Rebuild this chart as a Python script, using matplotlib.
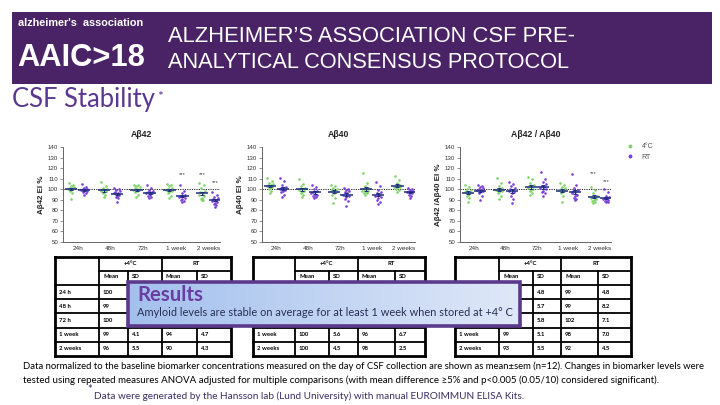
import matplotlib
matplotlib.use('Agg')
import matplotlib.pyplot as plt
import matplotlib.font_manager as fm
from matplotlib.colors import LinearSegmentedColormap
from matplotlib.lines import Line2D
from matplotlib.patches import Rectangle
import numpy as np

W, H = 720, 405

GROUPS = ['24h', '48h', '72h', '1 week', '2 weeks']
TABLE_ROWS = ['24 h', '48 h', '72 h', '1 week', '2 weeks']

# individual samples (% of baseline), 12 per group
AB42_4C = [[106, 104, 103, 102, 101, 101, 100, 100, 99, 98, 96, 91],
           [107, 103, 101, 100, 99, 99, 98, 98, 97, 96, 95, 93],
           [104, 104, 103, 102, 101, 100, 99, 99, 98, 97, 95, 93],
           [105, 104, 103, 101, 100, 99, 99, 98, 97, 96, 94, 92],
           [106, 104, 101, 98, 97, 96, 95, 94, 92, 91, 90, 90]]
AB42_RT = [[105, 102, 101, 100, 100, 99, 99, 98, 98, 97, 96, 95],
           [101, 100, 99, 98, 97, 96, 96, 95, 94, 93, 92, 88],
           [104, 101, 99, 98, 97, 97, 96, 96, 95, 94, 93, 92],
           [104, 98, 96, 95, 94, 94, 93, 92, 91, 90, 89, 88],
           [97, 95, 93, 92, 91, 90, 89, 88, 87, 86, 85, 83]]
AB40_4C = [[111, 108, 106, 105, 104, 104, 103, 102, 101, 100, 98, 96],
           [110, 105, 103, 101, 100, 100, 99, 98, 97, 96, 95, 93],
           [104, 103, 101, 100, 99, 98, 98, 97, 96, 95, 92, 87],
           [115, 106, 103, 101, 100, 99, 98, 98, 97, 96, 96, 95],
           [113, 109, 106, 104, 103, 103, 102, 102, 101, 100, 99, 97]]
AB40_RT = [[111, 108, 104, 102, 101, 100, 100, 99, 98, 97, 95, 93],
           [104, 102, 100, 98, 97, 97, 96, 95, 95, 94, 93, 92],
           [101, 100, 99, 98, 97, 96, 95, 94, 93, 91, 89, 84],
           [107, 103, 99, 97, 96, 95, 94, 93, 92, 90, 88, 86],
           [101, 100, 99, 98, 98, 97, 97, 96, 96, 95, 94, 92]]
RATIO_4C = [[104, 102, 100, 99, 98, 97, 97, 96, 95, 94, 92, 88],
            [111, 106, 103, 101, 100, 99, 99, 98, 97, 96, 94, 91],
            [112, 110, 106, 104, 103, 102, 101, 100, 99, 98, 96, 95],
            [106, 104, 102, 101, 100, 99, 99, 98, 97, 96, 94, 88],
            [102, 99, 96, 94, 93, 93, 92, 91, 90, 89, 88, 87]]
RATIO_RT = [[104, 103, 102, 101, 100, 99, 99, 98, 97, 96, 94, 90],
            [107, 105, 103, 101, 100, 99, 98, 97, 96, 94, 91, 87],
            [116, 110, 107, 105, 103, 102, 101, 100, 98, 97, 96, 94],
            [114, 104, 101, 99, 98, 97, 96, 95, 94, 92, 91, 90],
            [100, 97, 94, 93, 92, 92, 91, 90, 89, 89, 88, 88]]

# significance marks: (group, condition, height)
AB42_STARS = [(3, 'RT', 114), (4, '4C', 114), (4, 'RT', 106)]
RATIO_STARS = [(4, '4C', 115), (4, 'RT', 107)]

# tables: 4C mean, 4C SD, RT mean, RT SD
AB42_TABLE = [['100', '4.3', '99', '3.0'], ['99', '3.8', '96', '3.6'],
              ['100', '3.4', '97', '3.3'], ['99', '4.1', '94', '4.7'],
              ['96', '5.5', '90', '4.3']]
AB40_TABLE = [['104', '4.2', '101', '5.3'], ['100', '4.6', '97', '3.4'],
              ['98', '4.7', '95', '4.8'], ['100', '5.6', '96', '6.7'],
              ['100', '4.5', '98', '2.5']]
RATIO_TABLE = [['97', '4.8', '99', '4.8'], ['100', '5.7', '99', '8.2'],
               ['102', '5.8', '102', '7.1'], ['99', '5.1', '98', '7.0'],
               ['93', '5.5', '92', '4.5']]

PURPLE_BAND = '#4a2367'
TITLE_PURPLE = '#5a3790'
GREEN = '#7fd36a'
VIOLET = '#7b3fd8'
MEAN_C = '#1d2c80'
JITTER = [-0.08, 0.05, -0.02, 0.09, -0.05, 0.02, -0.10, 0.07, 0.0, -0.04, 0.04, -0.01]
OFF = 0.2
BOX = (128, 282, 520, 326)  # results call-out, pixels

names = {f.name for f in fm.fontManager.ttflist}
LOGO_FONT = 'Liberation Sans Narrow' if 'Liberation Sans Narrow' in names else 'Liberation Sans'
BODY = ['Lato', 'DejaVu Sans']
CHART = ['Liberation Sans', 'DejaVu Sans']

fig = plt.figure(figsize=(W / 100, H / 100), dpi=100)
renderer = fig.canvas.get_renderer()


def px_box(x0, y0, x1, y1):
    return [x0 / W, 1 - y1 / H, (x1 - x0) / W, (y1 - y0) / H]


def pixel_axes(z):
    ax = fig.add_axes([0, 0, 1, 1], zorder=z)
    ax.set_xlim(0, W)
    ax.set_ylim(H, 0)
    ax.axis('off')
    ax.patch.set_visible(False)
    return ax


def fit(txt, width):
    w = txt.get_window_extent(renderer=renderer).width
    txt.set_fontsize(txt.get_fontsize() * width / w)


def hidden(x, y):
    return BOX[0] - 2 <= x <= BOX[2] + 2 and BOX[1] - 2 <= y <= BOX[3] + 2


bg = pixel_axes(0)
bg.add_patch(Rectangle((12, 12), 700, 72, color=PURPLE_BAND, lw=0))
t = bg.text(18, 23, "alzheimer's  association", color='white', fontsize=5,
            family=CHART, fontweight='bold', va='center')
fit(t, 126)
t = bg.text(17, 58, 'AAIC>18', color='white', fontsize=26, family=LOGO_FONT,
            fontweight='bold', va='center')
fit(t, 128)
t = bg.text(168, 37, 'ALZHEIMER\u2019S ASSOCIATION CSF PRE-', color='white',
            fontsize=15, family=CHART, va='center')
fit(t, 410)
t = bg.text(168, 63, 'ANALYTICAL CONSENSUS PROTOCOL', color='white',
            fontsize=15, family=CHART, va='center')
fit(t, 405)
t = bg.text(12, 99, 'CSF Stability', color=TITLE_PURPLE, fontsize=14,
            family=BODY, va='center')
fit(t, 143)
bg.text(157, 97, '*', color=TITLE_PURPLE, fontsize=10, family=BODY, va='center')


def draw_panel(rect, cold, warm, title, ylabel, stars):
    ax = fig.add_axes(px_box(*rect), zorder=1)
    for i in range(len(GROUPS)):
        for vals, off, col in ((cold[i], -OFF, GREEN), (warm[i], OFF, VIOLET)):
            vals = np.asarray(vals, dtype=float)
            xs = i + off + np.asarray(JITTER[:len(vals)])
            ax.scatter(xs, vals, s=3.5, color=col, lw=0, zorder=2)
            m = vals.mean()
            se = vals.std(ddof=1) / np.sqrt(len(vals))
            ax.hlines(m, i + off - 0.19, i + off + 0.19, color=MEAN_C, lw=1.1, zorder=3)
            ax.errorbar(i + off, m, yerr=se, color=MEAN_C, capsize=1.5,
                        lw=0.7, capthick=0.7, zorder=3)
    for g, cond, y in stars:
        x = g + (-OFF if cond == '4C' else OFF)
        ax.text(x, y, '***', ha='center', va='center', fontsize=4.2,
                color='#444', family=CHART)
    ax.axhline(100, ls=(0, (1.2, 1.2)), color='#222', lw=0.7, zorder=1)
    ax.set_xlim(-0.45, 4.35)
    ax.set_ylim(50, 140)
    ax.set_yticks(np.arange(50, 141, 10))
    ax.set_xticks(range(len(GROUPS)))
    ax.set_xticklabels(GROUPS)
    for s in ('top', 'right'):
        ax.spines[s].set_visible(False)
    for s in ('left', 'bottom'):
        ax.spines[s].set_color('#666')
        ax.spines[s].set_linewidth(0.7)
    ax.tick_params(axis='y', length=2, width=0.5, colors='#666', labelsize=4.4,
                   labelcolor='#333', pad=1.5)
    ax.tick_params(axis='x', length=0, labelsize=4.6, labelcolor='#333', pad=3)
    for lab in ax.get_xticklabels() + ax.get_yticklabels():
        lab.set_family(CHART)
    ax.set_title(title, fontsize=6.3, fontweight='bold', pad=7, family=CHART,
                 color='#222')
    ax.set_ylabel(ylabel, fontsize=5.8, fontweight='bold', labelpad=2,
                  family=CHART, color='#222')
    ax.patch.set_visible(False)
    return ax


draw_panel((63, 147, 220, 242), AB42_4C, AB42_RT, 'A\u03b242', 'A\u03b242 EI %', AB42_STARS)
draw_panel((262, 147, 415, 242), AB40_4C, AB40_RT, 'A\u03b240', 'A\u03b240 EI %', [])
draw_panel((460, 147, 611, 242), RATIO_4C, RATIO_RT, 'A\u03b242 / A\u03b240',
           'A\u03b242 /A\u03b240 EI %', RATIO_STARS)

handles = [Line2D([], [], marker='o', ls='', color=GREEN, ms=1.8, label='4\u00b0C'),
           Line2D([], [], marker='o', ls='', color=VIOLET, ms=1.8, label='RT')]
fig.legend(handles=handles, loc='upper left', bbox_to_anchor=(620 / W, 1 - 137 / H),
           frameon=False, prop={'family': CHART, 'size': 5}, labelcolor='#555',
           handletextpad=1.2, labelspacing=0.5, handlelength=1.0)

ov = pixel_axes(2)


def draw_table(cols, values):
    top, rh = 256.5, 14.2
    rows = [top + k * rh for k in range(8)]
    left, right = cols[0], cols[-1]
    for k, y in enumerate(rows):
        x0 = cols[1] if k == 1 else left
        lw = 2.0 if k in (0, 7) else 1.3
        ov.plot([x0, right], [y, y], color='black', lw=lw, zorder=2,
                solid_capstyle='projecting')
    for k, x in enumerate(cols):
        y0 = rows[1] if k in (2, 4) else rows[0]
        lw = 2.0 if k in (0, 5) else 1.3
        ov.plot([x, x], [y0, rows[-1]], color='black', lw=lw, zorder=2,
                solid_capstyle='projecting')
    kw = dict(fontsize=4.3, family=BODY, fontweight='bold', va='center', zorder=2)

    def cell(x, y, s, ha='left'):
        if not hidden(x, y):
            ov.text(x, y, s, ha=ha, **kw)

    cell((cols[1] + cols[3]) / 2, (rows[0] + rows[1]) / 2, '+4\u00b0C', 'center')
    cell((cols[3] + cols[5]) / 2, (rows[0] + rows[1]) / 2, 'RT', 'center')
    for c, lab in zip(cols[1:5], ['Mean', 'SD', 'Mean', 'SD']):
        cell(c + 4, (rows[1] + rows[2]) / 2 - 1, lab)
    for r, (name, vals) in enumerate(zip(TABLE_ROWS, values)):
        yc = (rows[r + 2] + rows[r + 3]) / 2
        cell(cols[0] + 4, yc, name)
        for c, v in zip(cols[1:5], vals):
            cell(c + 4, yc, v)


draw_table([55, 99, 128, 162, 197, 231], AB42_TABLE)
draw_table([253, 295, 329, 358, 395, 425], AB40_TABLE)
draw_table([455, 499, 533, 561, 598, 631], RATIO_TABLE)

# results call-out
grad = LinearSegmentedColormap.from_list('box', ['#a3c0ed', '#dfe8f8'])
ov.imshow(np.linspace(0, 1, 256)[None, :], cmap=grad, aspect='auto',
          extent=(BOX[0], BOX[2], BOX[3], BOX[1]), zorder=3)
ov.add_patch(Rectangle((BOX[0], BOX[1]), BOX[2] - BOX[0], BOX[3] - BOX[1],
                       fill=False, ec='#5b3a8c', lw=2.6, zorder=4))
ov.set_xlim(0, W)
ov.set_ylim(H, 0)
t = ov.text(137, 295, 'Results', fontsize=13, fontweight='bold', color='#6a3da3',
            family=BODY, va='center', zorder=5)
fit(t, 66)
t = ov.text(137, 313, 'Amyloid levels are stable on average for at least 1 week when stored at +4\u00b0 C',
            fontsize=8, color='#2a2f55', family=BODY, va='center', zorder=5)
fit(t, 376)

t = ov.text(23, 366, 'Data normalized to the baseline biomarker concentrations measured on the day of '
            'CSF collection are shown as mean\u00b1sem (n=12). Changes in biomarker levels were',
            fontsize=6.5, family=BODY, va='center')
fit(t, 679)
t = ov.text(23, 380, 'tested using repeated measures ANOVA adjusted for multiple comparisons '
            '(with mean difference \u22655% and p<0.005 (0.05/10) considered significant).',
            fontsize=6.5, family=BODY, va='center')
fit(t, 636)
ov.text(87, 390, '*', fontsize=8, family=BODY, va='center', color='#3b2d63')
t = ov.text(94, 396, 'Data were generated by the Hansson lab (Lund University) with manual '
            'EUROIMMUN ELISA Kits.', fontsize=5.5, family=BODY, va='center', color='#3b2d63')
fit(t, 431)

fig.savefig('out.png', dpi=100)
